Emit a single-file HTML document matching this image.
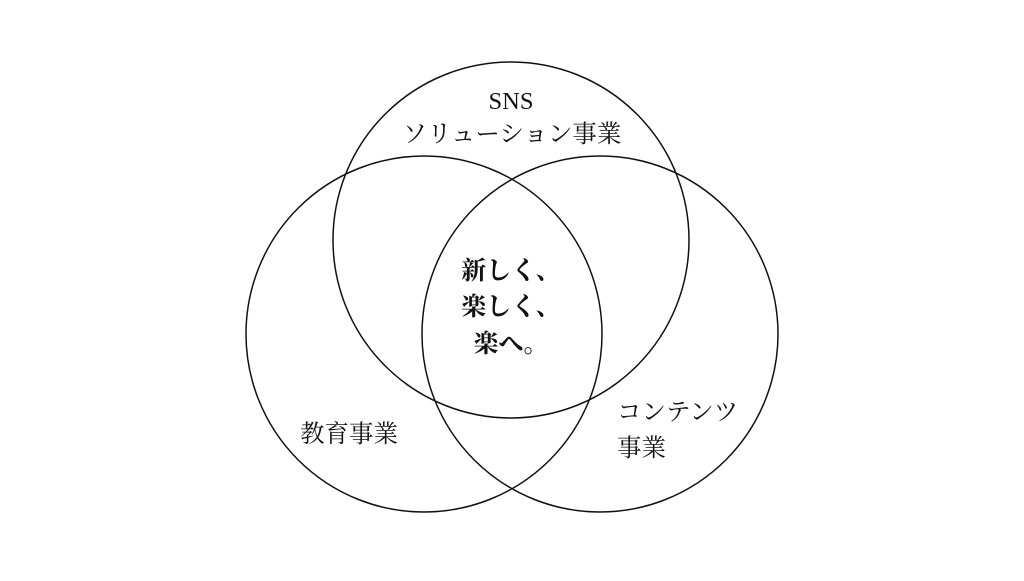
<!DOCTYPE html>
<html><head><meta charset="utf-8"><style>
html,body{margin:0;padding:0;background:#fff;}
</style></head><body>
<svg width="1024" height="576" viewBox="0 0 1024 576" xmlns="http://www.w3.org/2000/svg">
<rect width="1024" height="576" fill="#fff"/>
<g fill="none" stroke="#111" stroke-width="1.5">
<circle cx="511" cy="240" r="178"/>
<circle cx="424" cy="334" r="178"/>
<circle cx="600" cy="334" r="178"/>
</g>
<g font-family="'Liberation Serif','Noto Serif CJK SC',serif" fill="#111" font-size="24.5">
<text x="511" y="109" text-anchor="middle">SNS</text>
<text x="512" y="142" text-anchor="middle">ソリューション事業</text>
<text x="349" y="442" text-anchor="middle">教育事業</text>
<text x="617" y="420">コンテンツ</text>
<text x="617" y="456">事業</text>
<g font-weight="bold" font-size="25" text-anchor="middle">
<text x="511" y="279">新しく、</text>
<text x="511" y="315">楽しく、</text>
<text x="511" y="352">楽へ。</text>
</g>
</g>
</svg>
</body></html>
